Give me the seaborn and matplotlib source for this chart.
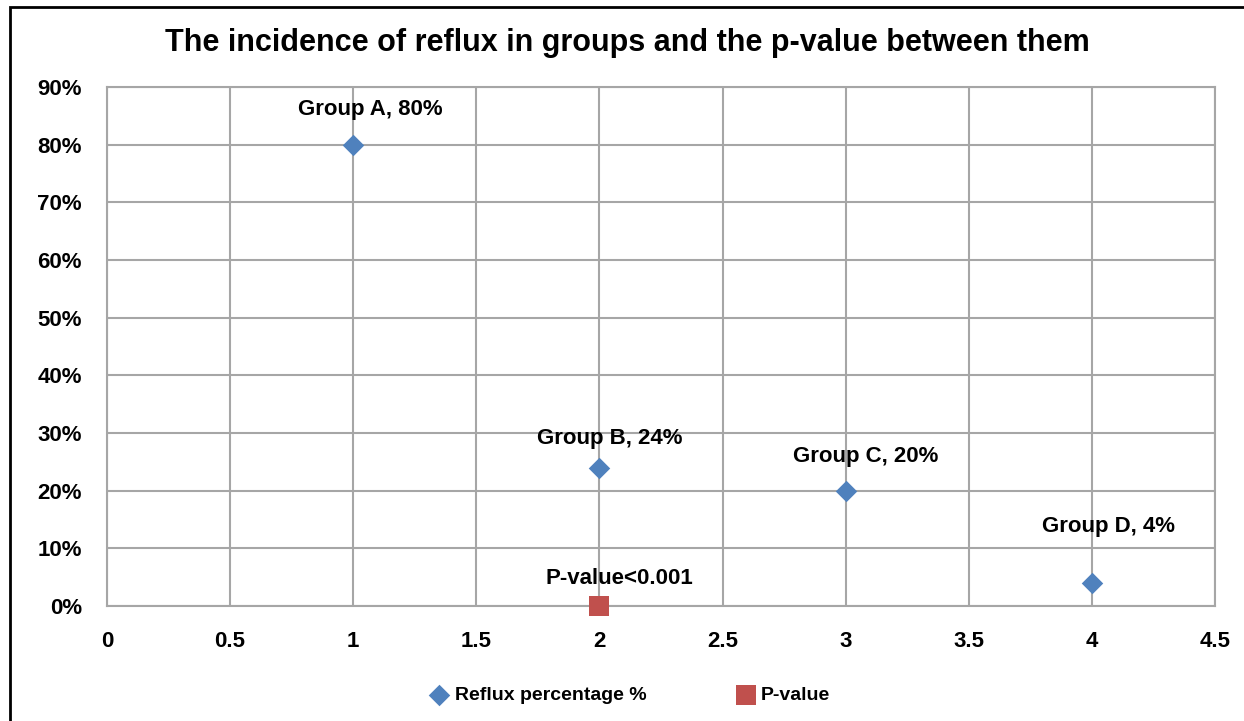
import matplotlib
matplotlib.use("Agg")
import matplotlib.pyplot as plt
import seaborn as sns
import pandas as pd
from matplotlib.ticker import PercentFormatter, MultipleLocator
from matplotlib.patches import Rectangle

# --- data ---
groups = ["Group A", "Group B", "Group C", "Group D"]
group_x = [1, 2, 3, 4]
reflux_pct = [80, 24, 20, 4]
pvalue_x = [2]
pvalue_y = [0]
pvalue_text = ["P-value<0.001"]

sns.set_style("white")
plt.rcParams["font.family"] = ["Liberation Sans Narrow", "Liberation Sans", "DejaVu Sans"]
plt.rcParams["font.weight"] = "bold"
plt.rcParams["text.color"] = "black"

blue = "#4F81BD"
red = "#C0504D"
grid_c = "#A6A6A6"

fig = plt.figure(figsize=(12.44, 7.21), dpi=100)
ax = fig.add_axes([107 / 1244, 1 - 606 / 721, (1215 - 107) / 1244, (606 - 87) / 721])

reflux = pd.DataFrame({"x": group_x, "y": reflux_pct, "label": groups})
pval = pd.DataFrame({"x": pvalue_x, "y": pvalue_y})

sns.scatterplot(data=reflux, x="x", y="y", marker="D", s=120, color=blue,
                linewidth=0, ax=ax, label="Reflux percentage %", zorder=5, clip_on=False)
sns.scatterplot(data=pval, x="x", y="y", marker="s", s=200, color=red,
                linewidth=0, ax=ax, label="P-value", zorder=5, clip_on=False)

# data labels (Excel style "above")
offsets = [(17, 35), (10, 29), (20, 34), (17, 56)]
for (gx, gy, name), off in zip(zip(group_x, reflux_pct, groups), offsets):
    ax.annotate(f"{name}, {gy}%", (gx, gy), xytext=off, textcoords="offset pixels",
                ha="center", va="center", fontsize=16, fontweight="bold", color="black")
ax.annotate(pvalue_text[0], (pvalue_x[0], pvalue_y[0]), xytext=(20, 27),
            textcoords="offset pixels", ha="center", va="center",
            fontsize=16, fontweight="bold", color="black")

ax.set_xlim(0, 4.5)
ax.set_ylim(0, 90)
ax.yaxis.set_major_locator(MultipleLocator(10))
ax.yaxis.set_major_formatter(PercentFormatter(decimals=0))
ax.set_xticks([0, 0.5, 1, 1.5, 2, 2.5, 3, 3.5, 4, 4.5])
ax.set_xticklabels(["0", "0.5", "1", "1.5", "2", "2.5", "3", "3.5", "4", "4.5"])
ax.set_xlabel("")
ax.set_ylabel("")

ax.grid(True, color=grid_c, linewidth=1.5)
ax.set_axisbelow(True)
for s in ax.spines.values():
    s.set_color(grid_c)
    s.set_linewidth(1.5)
ax.tick_params(axis="both", which="major", direction="out", length=6, width=1.5,
               color=grid_c, labelsize=16, labelcolor="black")
ax.tick_params(axis="x", pad=12)
ax.tick_params(axis="y", pad=12)
for lbl in ax.get_xticklabels() + ax.get_yticklabels():
    lbl.set_fontweight("bold")

ax.get_legend().remove()
handles, labels = ax.get_legend_handles_labels()
fig.legend(handles, labels, loc="center", bbox_to_anchor=(630 / 1244, 1 - 695 / 721),
           ncol=2, frameon=False, columnspacing=4.6, handletextpad=0.3,
           handlelength=1.0, prop={"weight": "bold", "size": 14}, labelcolor="black")

fig.text(627 / 1244, 1 - 43 / 721, "The incidence of reflux in groups and the p-value between them",
         ha="center", va="center", fontsize=22, fontweight="bold", color="black")

# outer chart frame
fig.patches.append(Rectangle((10 / 1244, -0.05), 1.1, 1 - 7 / 721 + 0.05,
                             transform=fig.transFigure, fill=False,
                             edgecolor="black", linewidth=2))

fig.savefig("out.png", dpi=100)
